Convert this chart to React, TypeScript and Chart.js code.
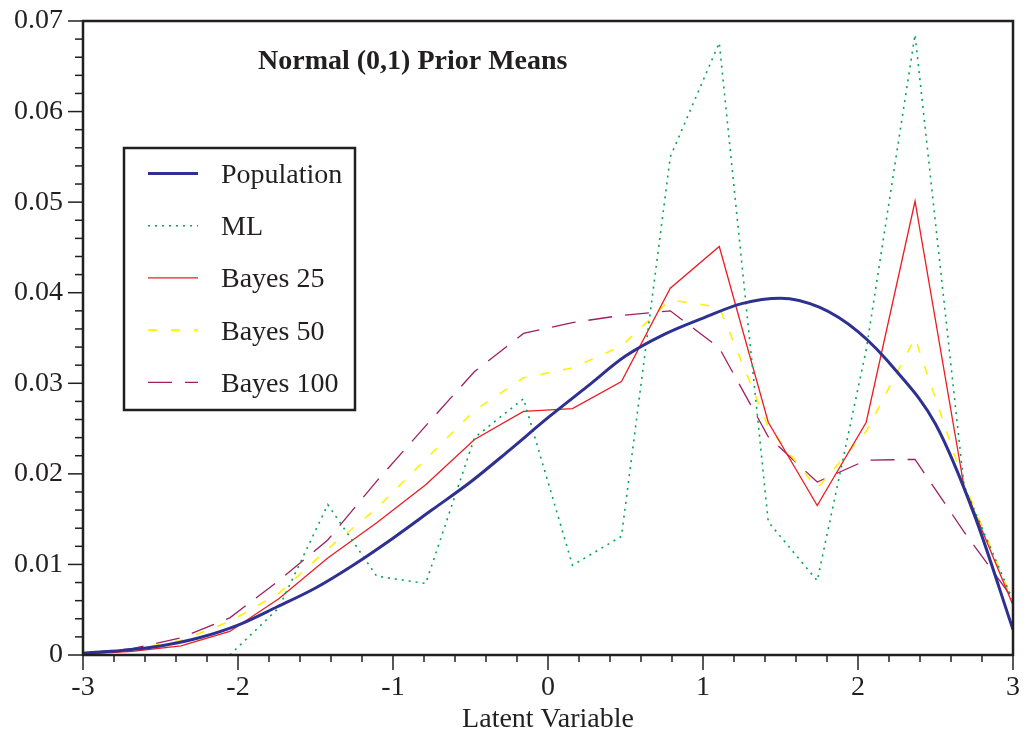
import React, { useEffect, useRef } from 'react';
import { Chart, registerables } from 'chart.js';

Chart.register(...registerables);

// ---- data ----
const popX = [-3, -2.75, -2.5, -2.25, -2, -1.75, -1.5, -1.25, -1, -0.75, -0.5, -0.25, 0, 0.25, 0.5, 0.75, 1, 1.25, 1.5, 1.75, 2, 2.25, 2.5, 2.75, 3];
const popY = [0.0002, 0.0005, 0.001, 0.0019, 0.0033, 0.0053, 0.0074, 0.01, 0.0129, 0.016, 0.0191, 0.0226, 0.0262, 0.0296, 0.033, 0.0354, 0.0372, 0.0388, 0.0394, 0.0384, 0.0357, 0.0313, 0.0255, 0.0155, 0.0028];

const estX = [-3, -2.684, -2.368, -2.053, -1.737, -1.421, -1.105, -0.789, -0.474, -0.158, 0.158, 0.474, 0.789, 1.105, 1.421, 1.737, 2.053, 2.368, 2.684, 3];
const mlY = [0, 0, 0, 0, 0.0052, 0.0166, 0.0087, 0.0079, 0.024, 0.0283, 0.0099, 0.0131, 0.055, 0.0676, 0.0147, 0.0082, 0.0337, 0.0685, 0.0187, 0.006];
const bayes25Y = [0.0001, 0.0004, 0.001, 0.0026, 0.0062, 0.0107, 0.0146, 0.0188, 0.0238, 0.0269, 0.0272, 0.0302, 0.0405, 0.0451, 0.0257, 0.0165, 0.0257, 0.0501, 0.0186, 0.0055];
const bayes50Y = [0.0001, 0.0006, 0.0016, 0.0037, 0.0068, 0.0117, 0.0162, 0.0216, 0.027, 0.0306, 0.0317, 0.0341, 0.0392, 0.0384, 0.0252, 0.0184, 0.0247, 0.035, 0.019, 0.0059];
const bayes100Y = [0.0002, 0.0007, 0.0019, 0.0041, 0.0082, 0.0127, 0.0192, 0.0253, 0.0313, 0.0355, 0.0367, 0.0375, 0.038, 0.0339, 0.0241, 0.0191, 0.0215, 0.0216, 0.0136, 0.0062];

const seriesLabels = ['Population', 'ML', 'Bayes 25', 'Bayes 50', 'Bayes 100'];
const chartTitle = 'Normal (0,1) Prior Means';
const xAxisTitle = 'Latent Variable';

const xMin = -3, xMax = 3, xStep = 0.2;
const yMin = 0, yMax = 0.07, yStep = 0.002;

// ---- style ----
const FONT = '"Liberation Serif", "Times New Roman", Times, serif';
const TEXT = '#231f20';

const isInt = (v: number) => Math.abs(v - Math.round(v)) < 1e-6;
const isYMajor = (v: number) => Math.abs(v * 100 - Math.round(v * 100)) < 1e-6;

const zip = (xs: number[], ys: number[]) => xs.map((x, i) => ({ x, y: ys[i] }));

const framePlugin = {
  id: 'frameTicks',
  afterDatasetsDraw(chart: any) {
    const { ctx, chartArea: a, scales } = chart;
    const x = scales.x, y = scales.y;
    ctx.save();
    ctx.strokeStyle = TEXT;
    ctx.lineWidth = 1.5;
    x.ticks.forEach((t: any) => {
      const px = x.getPixelForValue(t.value);
      const len = isInt(t.value) ? 15 : 7;
      ctx.beginPath();
      ctx.moveTo(px, a.bottom);
      ctx.lineTo(px, a.bottom + len);
      ctx.stroke();
    });
    y.ticks.forEach((t: any) => {
      const py = y.getPixelForValue(t.value);
      const len = isYMajor(t.value) ? 15 : 8;
      ctx.beginPath();
      ctx.moveTo(a.left, py);
      ctx.lineTo(a.left - len, py);
      ctx.stroke();
    });
    ctx.lineWidth = 2.5;
    ctx.strokeRect(a.left, a.top, a.right - a.left, a.bottom - a.top);
    ctx.restore();
  },
};

const titleLegendPlugin = {
  id: 'titleLegend',
  afterDraw(chart: any) {
    const { ctx, chartArea: a } = chart;
    ctx.save();
    // title
    ctx.fillStyle = TEXT;
    ctx.font = `bold 28px ${FONT}`;
    ctx.textBaseline = 'alphabetic';
    ctx.textAlign = 'left';
    ctx.fillText(chartTitle, a.left + 175, a.top + 48);

    // legend box
    const bx = a.left + 41, by = a.top + 127, bw = 231, bh = 262;
    ctx.fillStyle = '#ffffff';
    ctx.fillRect(bx, by, bw, bh);
    ctx.strokeStyle = TEXT;
    ctx.lineWidth = 2.5;
    ctx.strokeRect(bx, by, bw, bh);

    ctx.font = `28px ${FONT}`;
    chart.data.datasets.forEach((ds: any, i: number) => {
      const baseY = by + 35 + i * 52.2;
      const lineY = baseY - 9.5;
      ctx.save();
      ctx.strokeStyle = ds.borderColor;
      ctx.lineWidth = ds.borderWidth;
      ctx.setLineDash(ds.borderDash || []);
      ctx.beginPath();
      ctx.moveTo(bx + 24, lineY);
      ctx.lineTo(bx + 74, lineY);
      ctx.stroke();
      ctx.restore();
      ctx.fillStyle = TEXT;
      ctx.fillText(ds.label, bx + 97, baseY);
    });
    ctx.restore();
  },
};

export default function App() {
  const ref = useRef<HTMLCanvasElement>(null);

  useEffect(() => {
    document.body.style.margin = '0';
    const canvas = ref.current;
    if (!canvas) return;
    const common = { pointRadius: 0, pointHoverRadius: 0, fill: false, tension: 0 };
    const chart = new Chart(canvas, {
      type: 'line',
      data: {
        datasets: [
          { ...common, label: seriesLabels[0], data: zip(popX, popY), borderColor: '#2e3192', borderWidth: 3, cubicInterpolationMode: 'monotone' },
          { ...common, label: seriesLabels[1], data: zip(estX, mlY), borderColor: '#00a651', borderWidth: 1.6, borderDash: [2, 5] },
          { ...common, label: seriesLabels[2], data: zip(estX, bayes25Y), borderColor: '#ed1c24', borderWidth: 1.3 },
          { ...common, label: seriesLabels[3], data: zip(estX, bayes50Y), borderColor: '#fff200', borderWidth: 1.6, borderDash: [9, 14] },
          { ...common, label: seriesLabels[4], data: zip(estX, bayes100Y), borderColor: '#9e1f63', borderWidth: 1.3, borderDash: [24, 13] },
        ],
      },
      options: {
        responsive: false,
        animation: false,
        events: [],
        layout: { padding: { top: 21, right: 15, left: 0, bottom: 0 } },
        plugins: { legend: { display: false }, title: { display: false }, tooltip: { enabled: false } },
        scales: {
          x: {
            type: 'linear',
            min: xMin,
            max: xMax,
            grid: { display: false, drawTicks: false },
            border: { display: false },
            ticks: {
              stepSize: xStep,
              autoSkip: false,
              maxRotation: 0,
              padding: 16,
              color: TEXT,
              font: { family: FONT, size: 28 },
              callback: (v: any) => (isInt(Number(v)) ? String(Math.round(Number(v))) : ''),
            },
            title: { display: true, text: xAxisTitle, color: TEXT, font: { family: FONT, size: 28 }, padding: { top: 0, bottom: 2 } },
            afterFit: (s: any) => { s.height = 83; s.paddingLeft = 0; s.paddingRight = 0; },
          },
          y: {
            type: 'linear',
            min: yMin,
            max: yMax,
            grid: { display: false, drawTicks: false },
            border: { display: false },
            ticks: {
              stepSize: yStep,
              autoSkip: false,
              padding: 20,
              color: TEXT,
              font: { family: FONT, size: 28 },
              callback: (v: any) => {
                const n = Number(v);
                if (!isYMajor(n)) return '';
                const k = Math.round(n * 100);
                return k === 0 ? '0' : (k / 100).toFixed(2);
              },
            },
            afterFit: (s: any) => { s.width = 83; s.paddingTop = 0; s.paddingBottom = 0; },
          },
        },
      },
      plugins: [framePlugin, titleLegendPlugin],
    } as any);
    return () => chart.destroy();
  }, []);

  return (
    <div style={{ width: 1028, height: 738 }}>
      <canvas ref={ref} width={1028} height={738} style={{ display: 'block' }} />
    </div>
  );
}
